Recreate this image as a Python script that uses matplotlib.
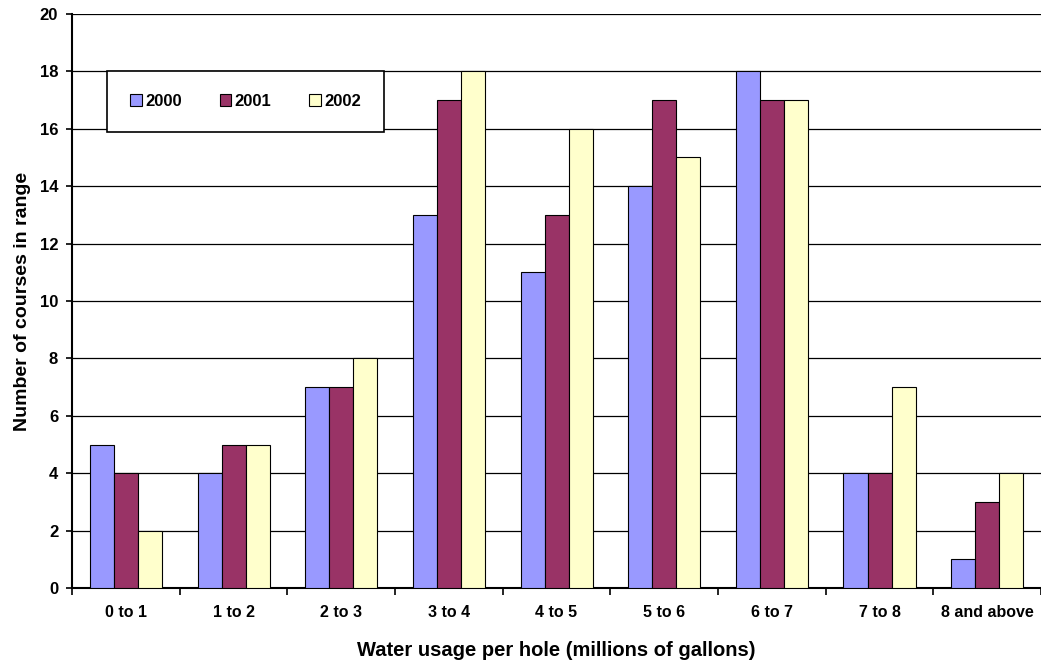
import numpy as np
import matplotlib.pyplot as plt

plt.rcParams['font.family'] = ['Liberation Sans', 'DejaVu Sans']
plt.rcParams['font.weight'] = 'bold'

categories = ["0 to 1", "1 to 2", "2 to 3", "3 to 4", "4 to 5",
              "5 to 6", "6 to 7", "7 to 8", "8 and above"]
y2000 = [5, 4, 7, 13, 11, 14, 18, 4, 1]
y2001 = [4, 5, 7, 17, 13, 17, 17, 4, 3]
y2002 = [2, 5, 8, 18, 16, 15, 17, 7, 4]

fig = plt.figure(figsize=(10.41, 6.60), dpi=100)
ax = fig.add_axes([0.0692, 0.109, 0.9308, 0.870])

x = np.arange(len(categories))
w = 0.223
ax.bar(x - w, y2000, w, color="#9999FF", edgecolor="black", linewidth=0.8, label="2000", zorder=3)
ax.bar(x, y2001, w, color="#993366", edgecolor="black", linewidth=0.8, label="2001", zorder=3)
ax.bar(x + w, y2002, w, color="#FFFFCC", edgecolor="black", linewidth=0.8, label="2002", zorder=3)

ax.set_xlim(-0.5, len(categories) - 0.5)
ax.set_ylim(0, 20)
ax.set_yticks(range(0, 21, 2))
ax.yaxis.grid(True, color="black", linewidth=0.9, zorder=0)
ax.set_axisbelow(True)

ax.set_xticks(np.arange(len(categories) + 1) - 0.5)
ax.set_xticklabels([])
ax.set_xticks(x, minor=True)
ax.set_xticklabels(categories, minor=True, fontsize=11.5, fontweight="bold")
ax.tick_params(axis="x", which="minor", length=0, pad=12)
ax.tick_params(axis="x", which="major", length=5, width=1.2, direction="out")
ax.tick_params(axis="y", length=4, width=1.2, labelsize=12, pad=6)

for s in ["top", "right"]:
    ax.spines[s].set_visible(False)
ax.spines["left"].set_linewidth(1.5)
ax.spines["bottom"].set_linewidth(1.5)

ax.set_xlabel("Water usage per hole (millions of gallons)", fontsize=14.5, fontweight="bold", labelpad=15)
ax.set_ylabel("Number of courses in range", fontsize=14, fontweight="bold", labelpad=6)

leg = ax.legend(loc="upper left", bbox_to_anchor=(0.036, 0.800, 0.286, 0.101), mode="expand",
                borderaxespad=0, ncol=3, frameon=True, fancybox=False, fontsize=12,
                handlelength=0.7, handleheight=0.7, borderpad=1.4, handletextpad=0.2,
                framealpha=1)
leg.get_frame().set_edgecolor("black")
leg.get_frame().set_linewidth(1.2)
leg.set_zorder(5)

plt.savefig("out.png", dpi=100)
